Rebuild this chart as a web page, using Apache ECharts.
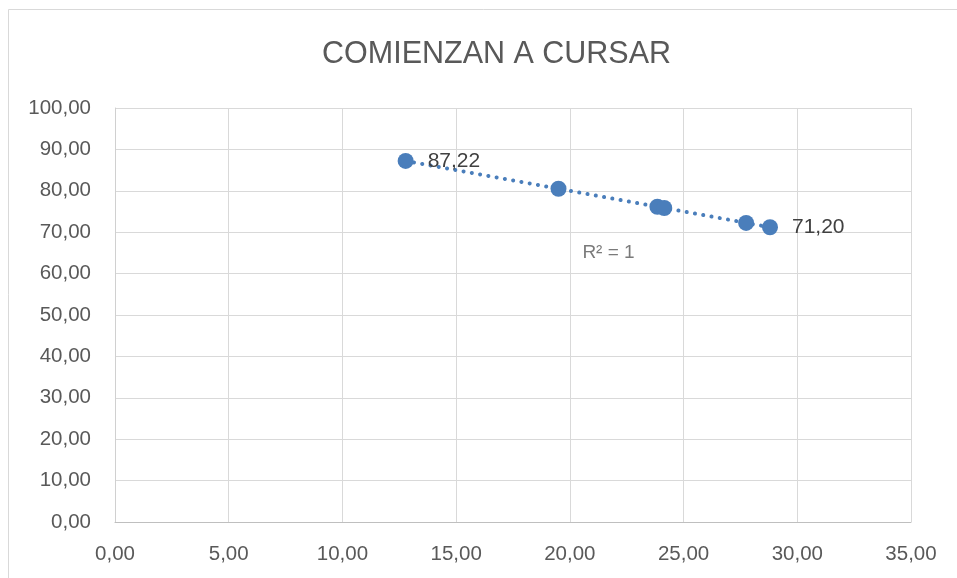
<!DOCTYPE html>
<html>
<head>
<meta charset="utf-8">
<script src="https://cdn.jsdelivr.net/npm/echarts@6/dist/echarts.min.js"></script>
<style>html,body{margin:0;padding:0;background:#fff}#c{width:957px;height:578px}</style>
</head>
<body>
<div id="c"></div>
<script>
const titleText = 'COMIENZAN A CURSAR';
const xValues = [12.78, 19.50, 23.85, 24.15, 27.75, 28.80];
const yValues = [87.22, 80.50, 76.15, 75.85, 72.25, 71.20];
const labeledIdx = [0, 5];
const trendX = [12.78, 28.80];
const trendY = [87.22, 71.20];
const r2Text = 'R² = 1';
const r2Pos = [21.70, 65.0];
const xTicks = {min: 0, max: 35, interval: 5};
const yTicks = {min: 0, max: 100, interval: 10};

const FONT = 'Liberation Sans';
const fmt = v => v.toFixed(2).replace('.', ',');
const color = '#4a7ebb';

const points = xValues.map((x, i) => ({
  value: [x, yValues[i]],
  label: {show: labeledIdx.includes(i)}
}));

const chart = echarts.init(document.getElementById('c'));
chart.setOption({
  animation: false,
  backgroundColor: '#fff',
  textStyle: {fontFamily: FONT},
  title: {
    text: titleText, left: 317, top: 34,
    textStyle: {fontFamily: FONT, fontSize: 30.5, fontWeight: 'normal', color: '#595959'}
  },
  graphic: [{
    type: 'rect', shape: {x: 8.5, y: 9.5, width: 1000, height: 1000},
    style: {fill: 'none', stroke: '#d9d9d9', lineWidth: 1}, silent: true, z: -1
  }],
  grid: {left: 115, right: 46, top: 108, bottom: 56},
  xAxis: {
    type: 'value', min: xTicks.min, max: xTicks.max, interval: xTicks.interval,
    axisLine: {show: true, lineStyle: {color: '#bfbfbf', width: 1}},
    axisTick: {show: false},
    splitLine: {show: true, lineStyle: {color: '#d9d9d9', width: 1}},
    axisLabel: {formatter: fmt, color: '#595959', fontSize: 20.5, fontFamily: FONT, margin: 22}
  },
  yAxis: {
    type: 'value', min: yTicks.min, max: yTicks.max, interval: yTicks.interval,
    axisLine: {show: true, lineStyle: {color: '#d0d0d0', width: 1}},
    axisTick: {show: false},
    splitLine: {show: true, lineStyle: {color: '#d9d9d9', width: 1}},
    axisLabel: {formatter: fmt, color: '#595959', fontSize: 20.5, fontFamily: FONT, margin: 24}
  },
  series: [
    {
      type: 'line',
      data: trendX.map((x, i) => [x, trendY[i]]),
      symbol: 'none',
      lineStyle: {color: color, width: 4, type: [0.1, 8.3], cap: 'round'},
      z: 1, silent: true
    },
    {
      type: 'scatter',
      data: points,
      symbolSize: 16,
      itemStyle: {color: color, opacity: 1},
      label: {
        position: 'right', distance: 14,
        formatter: p => fmt(p.value[1]),
        color: '#404040', fontSize: 21, fontFamily: FONT
      },
      z: 3
    },
    {
      type: 'scatter',
      data: [r2Pos],
      symbolSize: 0,
      label: {show: true, position: 'inside', formatter: r2Text, color: '#595959', fontSize: 19, fontFamily: FONT},
      silent: true, z: 4
    }
  ]
});
</script>
</body>
</html>
